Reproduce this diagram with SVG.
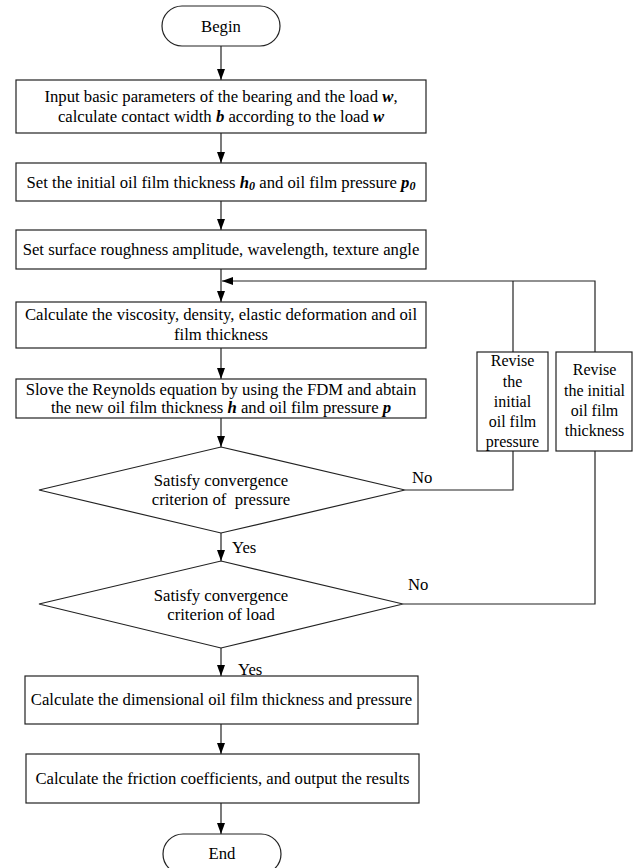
<svg xmlns="http://www.w3.org/2000/svg" width="633" height="868" viewBox="0 0 633 868">
<defs>
<style>
text{font-family:"Liberation Serif","Times New Roman",serif;font-size:16.7px;fill:#000}
.c{text-anchor:middle}
.r{font-size:16px}
.bi{font-weight:bold;font-style:italic}
.sub{font-size:12px;font-weight:bold;font-style:italic}
.shape{fill:#fff;stroke:#222;stroke-width:1.2}
.line{fill:none;stroke:#222;stroke-width:1.2}
</style>
<marker id="arrL" viewBox="0 0 10 10" refX="10" refY="5" markerWidth="11" markerHeight="8" markerUnits="userSpaceOnUse" orient="auto" preserveAspectRatio="none">
<path d="M0,0 L10,5 L0,10 Z" fill="#000"/>
</marker>
</defs>
<rect width="633" height="868" fill="#fff"/>

<g id="connectors">
<line class="line" x1="221" y1="46" x2="221" y2="80" marker-end="url(#arrL)"/>
<line class="line" x1="221" y1="133" x2="221" y2="163" marker-end="url(#arrL)"/>
<line class="line" x1="221" y1="201" x2="221" y2="230" marker-end="url(#arrL)"/>
<line class="line" x1="221" y1="269" x2="221" y2="302" marker-end="url(#arrL)"/>
<line class="line" x1="221" y1="348" x2="221" y2="379" marker-end="url(#arrL)"/>
<line class="line" x1="221" y1="418" x2="221" y2="447" marker-end="url(#arrL)"/>
<line class="line" x1="221" y1="533" x2="221" y2="561" marker-end="url(#arrL)"/>
<line class="line" x1="221" y1="648" x2="221" y2="676" marker-end="url(#arrL)"/>
<line class="line" x1="221" y1="724" x2="221" y2="754" marker-end="url(#arrL)"/>
<line class="line" x1="221" y1="803" x2="221" y2="834" marker-end="url(#arrL)"/>
<polyline class="line" points="595,352 595,281 222,281" marker-end="url(#arrL)"/>
<line class="line" x1="513" y1="352" x2="513" y2="281"/>
<polyline class="line" points="405,490 513,490 513,451"/>
<polyline class="line" points="403,604 595,604 595,451"/>
<text x="412" y="483">No</text>
<text x="408" y="590">No</text>
<text x="232" y="553">Yes</text>
<text x="238" y="675">Yes</text>
</g>

<g id="begin">
<rect class="shape" x="162" y="6" width="118" height="40" rx="20" ry="20"/>
<text class="c" x="221" y="32">Begin</text>
</g>

<g id="input">
<rect class="shape" x="16" y="80" width="410" height="53"/>
<text class="c" x="221" y="102">Input basic parameters of the bearing and the load <tspan class="bi">w</tspan>,</text>
<text class="c" x="221" y="122">calculate contact width <tspan class="bi">b</tspan> according to the load <tspan class="bi">w</tspan></text>
</g>

<g id="initial">
<rect class="shape" x="16" y="163" width="410" height="38"/>
<text class="c" x="221" y="188">Set the initial oil film thickness <tspan class="bi">h</tspan><tspan class="sub" dy="2">0</tspan><tspan dy="-2"> and oil film pressure </tspan><tspan class="bi">p</tspan><tspan class="sub" dy="2">0</tspan></text>
</g>

<g id="roughness">
<rect class="shape" x="16" y="230" width="410" height="39"/>
<text class="c" x="221" y="255">Set surface roughness amplitude, wavelength, texture angle</text>
</g>

<g id="viscosity">
<rect class="shape" x="16" y="302" width="410" height="46"/>
<text class="c" x="221" y="320">Calculate the viscosity, density, elastic deformation and oil</text>
<text class="c" x="221" y="340">film thickness</text>
</g>

<g id="reynolds">
<rect class="shape" x="16" y="379" width="410" height="39"/>
<text class="c" x="221" y="395">Slove the Reynolds equation by using the FDM and abtain</text>
<text class="c" x="221" y="413">the new oil film thickness <tspan class="bi">h</tspan> and oil film pressure <tspan class="bi">p</tspan></text>
</g>

<g id="pressure-check">
<polygon class="shape" points="221,447 405,490 221,533 39,490"/>
<text class="c" x="221" y="486">Satisfy convergence</text>
<text class="c" x="221" y="505" style="white-space:pre">criterion of  pressure</text>
</g>

<g id="load-check">
<polygon class="shape" points="221,561 403,604 221,648 39,604"/>
<text class="c" x="221" y="601">Satisfy convergence</text>
<text class="c" x="221" y="620">criterion of load</text>
</g>

<g id="revise-pressure">
<rect class="shape" x="477" y="352" width="71" height="99"/>
<text class="c r" x="512.5" y="366">Revise</text>
<text class="c r" x="512.5" y="387">the</text>
<text class="c r" x="512.5" y="407">initial</text>
<text class="c r" x="512.5" y="427">oil film</text>
<text class="c r" x="512.5" y="447">pressure</text>
</g>

<g id="revise-thickness">
<rect class="shape" x="556" y="352" width="76" height="99"/>
<text class="c r" x="594.5" y="375">Revise</text>
<text class="c r" x="594.5" y="396">the initial</text>
<text class="c r" x="594.5" y="416">oil film</text>
<text class="c r" x="594.5" y="436">thickness</text>
</g>

<g id="dimensional">
<rect class="shape" x="25" y="676" width="393" height="48"/>
<text class="c" x="221.5" y="705">Calculate the dimensional oil film thickness and pressure</text>
</g>

<g id="friction">
<rect class="shape" x="26" y="754" width="393" height="49"/>
<text class="c" x="222.5" y="784">Calculate the friction coefficients, and output the results</text>
</g>

<g id="end">
<rect class="shape" x="163" y="834" width="118" height="40" rx="20" ry="20"/>
<text class="c" x="222" y="859">End</text>
</g>
</svg>
